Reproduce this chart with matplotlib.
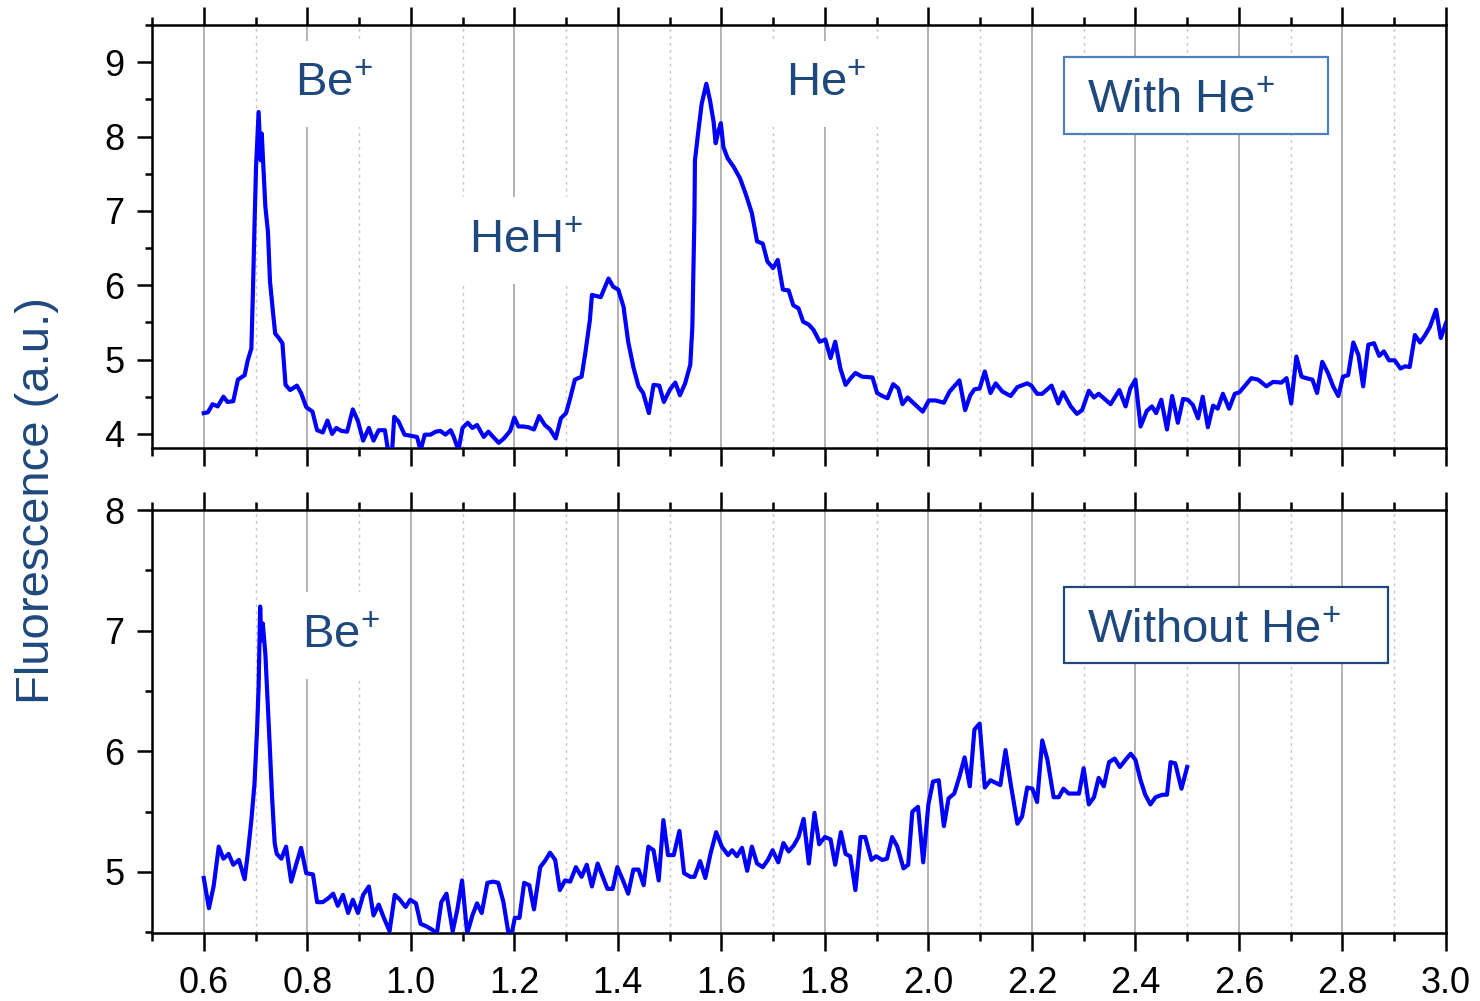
import matplotlib
matplotlib.use('Agg')
import matplotlib.pyplot as plt
from matplotlib.ticker import MultipleLocator
from matplotlib.patches import Rectangle

plt.rcParams['font.family'] = ['Liberation Sans', 'DejaVu Sans']
plt.rcParams['mathtext.fontset'] = 'custom'
plt.rcParams['mathtext.rm'] = 'Liberation Sans'
plt.rcParams['mathtext.default'] = 'regular'

# top panel: with He+
top_x = [0.600, 0.608, 0.617, 0.627, 0.638, 0.646, 0.657, 0.666, 0.679, 0.685,
         0.692, 0.695, 0.698, 0.701, 0.706, 0.710, 0.712, 0.715, 0.719, 0.724,
         0.728, 0.734, 0.738, 0.745, 0.752, 0.758, 0.767, 0.780, 0.788, 0.798,
         0.810, 0.819, 0.830, 0.839, 0.848, 0.856, 0.866, 0.877, 0.888, 0.898,
         0.908, 0.919, 0.928, 0.938, 0.950, 0.956, 0.964, 0.968, 0.976, 0.988,
         1.004, 1.012, 1.019, 1.027, 1.038, 1.048, 1.057, 1.067, 1.077, 1.083,
         1.092, 1.100, 1.110, 1.119, 1.128, 1.141, 1.150, 1.159, 1.170, 1.180,
         1.192, 1.200, 1.208, 1.217, 1.227, 1.238, 1.248, 1.259, 1.269, 1.280,
         1.290, 1.300, 1.308, 1.317, 1.330, 1.337, 1.346, 1.350, 1.367, 1.373,
         1.382, 1.391, 1.401, 1.411, 1.420, 1.430, 1.440, 1.449, 1.460, 1.469,
         1.480, 1.489, 1.501, 1.511, 1.520, 1.530, 1.540, 1.544, 1.546, 1.548,
         1.549, 1.555, 1.562, 1.571, 1.578, 1.585, 1.589, 1.594, 1.599, 1.604,
         1.612, 1.624, 1.636, 1.647, 1.659, 1.669, 1.680, 1.689, 1.700, 1.709,
         1.719, 1.730, 1.739, 1.749, 1.758, 1.769, 1.778, 1.790, 1.801, 1.811,
         1.820, 1.830, 1.840, 1.850, 1.859, 1.872, 1.892, 1.901, 1.911, 1.921,
         1.932, 1.942, 1.950, 1.960, 1.972, 1.989, 2.001, 2.014, 2.030, 2.041,
         2.060, 2.071, 2.081, 2.089, 2.099, 2.109, 2.120, 2.130, 2.143, 2.159,
         2.172, 2.191, 2.199, 2.210, 2.220, 2.238, 2.251, 2.260, 2.275, 2.287,
         2.297, 2.310, 2.320, 2.329, 2.352, 2.369, 2.381, 2.390, 2.400, 2.410,
         2.422, 2.432, 2.440, 2.450, 2.461, 2.471, 2.482, 2.492, 2.501, 2.511,
         2.521, 2.530, 2.540, 2.550, 2.559, 2.569, 2.581, 2.592, 2.601, 2.613,
         2.624, 2.637, 2.653, 2.666, 2.682, 2.692, 2.701, 2.711, 2.721, 2.730,
         2.742, 2.751, 2.761, 2.772, 2.782, 2.792, 2.801, 2.811, 2.821, 2.831,
         2.840, 2.850, 2.861, 2.871, 2.880, 2.890, 2.901, 2.912, 2.921, 2.930,
         2.940, 2.950, 2.959, 2.969, 2.981, 2.990, 3.000]
top_y = [4.28, 4.29, 4.40, 4.37, 4.50, 4.43, 4.44, 4.73, 4.79, 4.99,
         5.15, 5.91, 6.79, 7.59, 8.33, 7.68, 8.04, 7.62, 7.06, 6.72,
         6.05, 5.62, 5.35, 5.29, 5.22, 4.66, 4.59, 4.65, 4.55, 4.36,
         4.30, 4.05, 4.02, 4.18, 4.00, 4.08, 4.04, 4.03, 4.33, 4.17,
         3.91, 4.08, 3.91, 4.05, 4.05, 3.78, 3.78, 4.23, 4.17, 3.99,
         3.97, 3.96, 3.78, 3.99, 3.99, 4.03, 4.04, 3.99, 4.05, 3.96,
         3.78, 4.08, 4.15, 4.08, 4.12, 3.96, 4.03, 3.96, 3.88, 3.94,
         4.04, 4.22, 4.10, 4.10, 4.09, 4.06, 4.24, 4.12, 4.06, 3.94,
         4.21, 4.28, 4.48, 4.73, 4.77, 5.08, 5.53, 5.87, 5.84, 5.94,
         6.09, 5.98, 5.94, 5.71, 5.24, 4.90, 4.64, 4.55, 4.28, 4.66,
         4.65, 4.43, 4.60, 4.69, 4.52, 4.68, 4.93, 5.44, 6.16, 6.92,
         7.68, 8.04, 8.44, 8.71, 8.49, 8.20, 7.91, 8.06, 8.18, 7.86,
         7.71, 7.59, 7.44, 7.23, 6.97, 6.59, 6.56, 6.32, 6.23, 6.34,
         5.94, 5.93, 5.73, 5.69, 5.51, 5.47, 5.40, 5.24, 5.27, 5.02,
         5.24, 4.88, 4.66, 4.75, 4.82, 4.77, 4.76, 4.55, 4.51, 4.48,
         4.67, 4.61, 4.40, 4.49, 4.41, 4.30, 4.45, 4.45, 4.42, 4.57,
         4.72, 4.32, 4.52, 4.60, 4.61, 4.84, 4.55, 4.68, 4.57, 4.51,
         4.63, 4.68, 4.65, 4.54, 4.54, 4.65, 4.41, 4.56, 4.37, 4.27,
         4.32, 4.58, 4.49, 4.54, 4.40, 4.59, 4.37, 4.61, 4.73, 4.10,
         4.31, 4.37, 4.28, 4.46, 4.06, 4.51, 4.15, 4.47, 4.46, 4.39,
         4.21, 4.50, 4.09, 4.38, 4.34, 4.54, 4.34, 4.54, 4.56, 4.66,
         4.75, 4.73, 4.64, 4.70, 4.69, 4.75, 4.41, 5.04, 4.77, 4.75,
         4.73, 4.55, 4.97, 4.82, 4.64, 4.51, 4.77, 4.79, 5.23, 5.06,
         4.64, 5.20, 5.22, 5.05, 5.11, 4.99, 4.99, 4.88, 4.91, 4.90,
         5.33, 5.23, 5.32, 5.44, 5.67, 5.29, 5.49]

# bottom panel: without He+
bot_x = [0.600, 0.610, 0.619, 0.629, 0.638, 0.648, 0.657, 0.668, 0.679, 0.685,
         0.692, 0.698, 0.703, 0.706, 0.709, 0.711, 0.714, 0.719, 0.723, 0.727,
         0.732, 0.737, 0.741, 0.750, 0.759, 0.769, 0.779, 0.788, 0.798, 0.811,
         0.819, 0.830, 0.840, 0.850, 0.859, 0.869, 0.879, 0.888, 0.898, 0.908,
         0.919, 0.928, 0.938, 0.948, 0.959, 0.969, 0.979, 0.990, 0.999, 1.010,
         1.019, 1.030, 1.042, 1.050, 1.059, 1.069, 1.081, 1.090, 1.099, 1.109,
         1.119, 1.128, 1.137, 1.148, 1.159, 1.169, 1.179, 1.188, 1.195, 1.201,
         1.210, 1.219, 1.229, 1.238, 1.250, 1.259, 1.269, 1.279, 1.288, 1.298,
         1.308, 1.319, 1.330, 1.340, 1.350, 1.361, 1.371, 1.380, 1.390, 1.399,
         1.410, 1.420, 1.430, 1.440, 1.450, 1.459, 1.469, 1.479, 1.488, 1.497,
         1.508, 1.519, 1.528, 1.540, 1.548, 1.559, 1.569, 1.579, 1.590, 1.601,
         1.613, 1.621, 1.630, 1.640, 1.650, 1.659, 1.669, 1.680, 1.690, 1.699,
         1.710, 1.720, 1.730, 1.740, 1.749, 1.759, 1.769, 1.780, 1.789, 1.800,
         1.811, 1.820, 1.831, 1.840, 1.849, 1.859, 1.869, 1.878, 1.890, 1.899,
         1.911, 1.920, 1.930, 1.940, 1.952, 1.961, 1.969, 1.980, 1.990, 2.000,
         2.009, 2.020, 2.030, 2.039, 2.050, 2.060, 2.070, 2.080, 2.089, 2.099,
         2.109, 2.120, 2.139, 2.149, 2.159, 2.172, 2.181, 2.191, 2.201, 2.210,
         2.220, 2.230, 2.242, 2.252, 2.261, 2.271, 2.291, 2.300, 2.310, 2.320,
         2.329, 2.339, 2.349, 2.360, 2.370, 2.381, 2.391, 2.400, 2.410, 2.419,
         2.429, 2.439, 2.452, 2.461, 2.468, 2.477, 2.489, 2.500]
bot_y = [4.95, 4.70, 4.88, 5.21, 5.11, 5.15, 5.06, 5.10, 4.94, 5.15,
         5.43, 5.73, 6.18, 6.54, 7.20, 6.92, 7.06, 6.81, 6.45, 6.09,
         5.62, 5.24, 5.15, 5.11, 5.21, 4.92, 5.07, 5.20, 4.99, 4.98,
         4.75, 4.75, 4.78, 4.82, 4.72, 4.81, 4.66, 4.77, 4.66, 4.81,
         4.88, 4.64, 4.73, 4.62, 4.51, 4.81, 4.77, 4.71, 4.77, 4.74,
         4.57, 4.55, 4.52, 4.48, 4.75, 4.82, 4.51, 4.69, 4.93, 4.49,
         4.64, 4.74, 4.66, 4.91, 4.92, 4.91, 4.75, 4.51, 4.49, 4.62,
         4.62, 4.91, 4.89, 4.69, 5.04, 5.09, 5.16, 5.10, 4.85, 4.93,
         4.92, 5.04, 4.96, 5.06, 4.88, 5.07, 4.96, 4.86, 4.86, 5.04,
         4.93, 4.82, 5.02, 5.02, 4.89, 5.21, 5.18, 4.93, 5.43, 5.14,
         5.14, 5.34, 4.99, 4.96, 4.96, 5.09, 4.95, 5.15, 5.33, 5.21,
         5.14, 5.18, 5.13, 5.20, 5.01, 5.21, 5.07, 5.04, 5.10, 5.18,
         5.08, 5.24, 5.17, 5.22, 5.29, 5.44, 5.07, 5.49, 5.23, 5.29,
         5.27, 5.06, 5.33, 5.15, 5.13, 4.85, 5.29, 5.29, 5.10, 5.13,
         5.10, 5.11, 5.29, 5.21, 5.03, 5.06, 5.50, 5.54, 5.08, 5.56,
         5.75, 5.76, 5.38, 5.61, 5.65, 5.79, 5.95, 5.71, 6.18, 6.23,
         5.70, 5.76, 5.72, 6.01, 5.73, 5.40, 5.46, 5.70, 5.69, 5.58,
         6.09, 5.93, 5.62, 5.62, 5.69, 5.65, 5.65, 5.86, 5.56, 5.62,
         5.78, 5.71, 5.91, 5.94, 5.87, 5.93, 5.98, 5.93, 5.76, 5.64,
         5.56, 5.62, 5.64, 5.64, 5.91, 5.90, 5.69, 5.87]

label_blue = '#1F497D'
line_blue = '#0000FF'

fig = plt.figure(figsize=(14.8, 10.01), dpi=100)
ax1 = fig.add_axes([0.1027, 0.5524, 0.8743, 0.4226])
ax2 = fig.add_axes([0.1027, 0.0679, 0.8743, 0.4226])

for ax in (ax1, ax2):
    ax.set_xlim(0.5, 3.0)
    ax.xaxis.set_major_locator(MultipleLocator(0.2))
    ax.xaxis.set_minor_locator(MultipleLocator(0.1))
    ax.yaxis.set_major_locator(MultipleLocator(1))
    ax.yaxis.set_minor_locator(MultipleLocator(0.5))
    ax.set_axisbelow(True)
    ax.grid(which='major', axis='x', color='#a6a6a6', lw=1.2, ls='-')
    ax.grid(which='minor', axis='x', color='#c4c4c4', lw=1.0, ls=(0, (2, 3)))
    ax.tick_params(axis='x', which='both', direction='out', top=True,
                   bottom=True, width=1.8, labelsize=26, pad=11)
    ax.tick_params(axis='x', which='major', length=13)
    ax.tick_params(axis='x', which='minor', length=6)
    ax.tick_params(axis='y', which='both', direction='out', left=True,
                   right=False, width=1.8, labelsize=26, pad=9)
    ax.tick_params(axis='y', which='major', length=11)
    ax.tick_params(axis='y', which='minor', length=5)
    for sp in ax.spines.values():
        sp.set_linewidth(1.8)

ax1.plot(top_x, top_y, color=line_blue, lw=3.0, zorder=3)
ax1.set_ylim(3.81, 9.5)
ax1.tick_params(axis='x', labelbottom=False)

ax2.plot(bot_x, bot_y, color=line_blue, lw=3.0, zorder=3)
ax2.set_ylim(4.494, 8.0)

peak_box = dict(facecolor='white', edgecolor='none', boxstyle='square,pad=0.45')
ax1.text(0.851, 8.71, 'Be$^{+}$', fontsize=34, color=label_blue,
         ha='center', va='center', bbox=peak_box, zorder=2)
ax1.text(1.223, 6.60, 'HeH$^{+}$', fontsize=34, color=label_blue,
         ha='center', va='center', bbox=peak_box, zorder=2)
ax1.text(1.803, 8.71, 'He$^{+}$', fontsize=34, color=label_blue,
         ha='center', va='center', bbox=peak_box, zorder=2)
ax2.text(0.865, 6.96, 'Be$^{+}$', fontsize=34, color=label_blue,
         ha='center', va='center', bbox=peak_box, zorder=2)

ax1.add_patch(Rectangle((0.705, 0.742), 0.204, 0.182, transform=ax1.transAxes,
                        facecolor='white', edgecolor='#4F81BD', lw=1.6, zorder=2))
ax1.text(0.7226, 0.820, 'With He$^{+}$', transform=ax1.transAxes, fontsize=34,
         color=label_blue, ha='left', va='center', zorder=2.5)

ax2.add_patch(Rectangle((0.705, 0.638), 0.250, 0.180, transform=ax2.transAxes,
                        facecolor='white', edgecolor='#1F497D', lw=1.6, zorder=2))
ax2.text(0.7226, 0.714, 'Without He$^{+}$', transform=ax2.transAxes, fontsize=34,
         color=label_blue, ha='left', va='center', zorder=2.5)

fig.text(0.025, 0.5, 'Fluorescence (a.u.)', rotation=90, fontsize=34,
         color=label_blue, ha='center', va='center')

fig.savefig('out.png', dpi=100)
